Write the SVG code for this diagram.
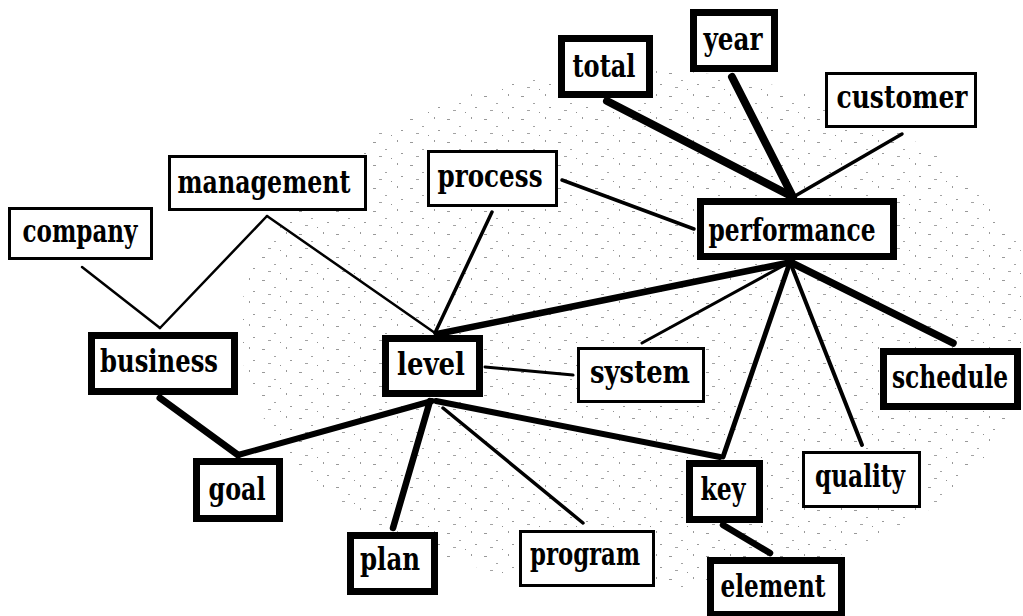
<svg xmlns="http://www.w3.org/2000/svg" width="1023" height="616" viewBox="0 0 1023 616">
<defs>
<style>
.box{fill:#fff;stroke:#000}
.thick{stroke-width:7}
.thin{stroke-width:3}
.lbl{font-family:"DejaVu Serif","Liberation Serif",serif;font-size:32px;fill:#000;text-anchor:middle;font-weight:bold}
.e{stroke:#000;fill:none;stroke-linecap:round}
</style>
<pattern id="speck" width="37" height="23" patternUnits="userSpaceOnUse">
<rect x="3" y="4" width="3" height="1" fill="#555"/>
<rect x="15" y="11" width="2" height="1" fill="#666"/>
<rect x="27" y="2" width="1" height="2" fill="#555"/>
<rect x="9" y="18" width="3" height="1" fill="#666"/>
<rect x="31" y="15" width="2" height="1" fill="#555"/>
<rect x="21" y="20" width="1" height="1" fill="#444"/>
</pattern>
</defs>
<rect width="1023" height="616" fill="#fff"/>
<ellipse cx="640" cy="330" rx="400" ry="260" fill="url(#speck)" opacity="0.6"/>
<g id="connectors">
<line class="e" x1="607" y1="101" x2="793" y2="197" stroke-width="8"/>
<line class="e" x1="732" y1="77" x2="793" y2="197" stroke-width="8"/>
<line class="e" x1="902" y1="134" x2="795" y2="196" stroke-width="3.5"/>
<line class="e" x1="562" y1="180" x2="694" y2="229" stroke-width="3.5"/>
<line class="e" x1="492" y1="212" x2="435" y2="333" stroke-width="3.5"/>
<line class="e" x1="267" y1="216" x2="435" y2="333" stroke-width="2.5"/>
<line class="e" x1="267" y1="216" x2="160" y2="328" stroke-width="2.5"/>
<line class="e" x1="82" y1="267" x2="160" y2="328" stroke-width="2.5"/>
<line class="e" x1="437" y1="334" x2="792" y2="262" stroke-width="6.5"/>
<line class="e" x1="790" y1="262" x2="642" y2="343" stroke-width="3"/>
<line class="e" x1="790" y1="262" x2="723" y2="457" stroke-width="5"/>
<line class="e" x1="790" y1="262" x2="862" y2="445" stroke-width="4"/>
<line class="e" x1="790" y1="262" x2="953" y2="343" stroke-width="7.5"/>
<line class="e" x1="485" y1="367" x2="573" y2="375" stroke-width="3"/>
<line class="e" x1="160" y1="398" x2="238" y2="455" stroke-width="7"/>
<line class="e" x1="238" y1="455" x2="432" y2="401" stroke-width="6"/>
<line class="e" x1="430" y1="401" x2="393" y2="528" stroke-width="6.5"/>
<line class="e" x1="443" y1="408" x2="583" y2="523" stroke-width="3.5"/>
<line class="e" x1="436" y1="401" x2="720" y2="457" stroke-width="6"/>
<line class="e" x1="723" y1="525" x2="770" y2="553" stroke-width="6.5"/>
</g>
<g id="node-total"><rect class="box thick" x="561.5" y="38.5" width="88" height="56"/><text class="lbl" x="604" y="77" textLength="63" lengthAdjust="spacingAndGlyphs">total</text></g>
<g id="node-year"><rect class="box thick" x="693.5" y="12.5" width="81" height="56"/><text class="lbl" x="733" y="50" textLength="59" lengthAdjust="spacingAndGlyphs">year</text></g>
<g id="node-customer"><rect class="box thin" x="826.5" y="73.5" width="149" height="53"/><text class="lbl" x="902" y="108" textLength="131" lengthAdjust="spacingAndGlyphs">customer</text></g>
<g id="node-performance"><rect class="box thick" x="700.5" y="201.5" width="193" height="55"/><text class="lbl" x="792" y="241" textLength="167" lengthAdjust="spacingAndGlyphs">performance</text></g>
<g id="node-process"><rect class="box thin" x="428.5" y="151.5" width="128" height="54"/><text class="lbl" x="490" y="187" textLength="105" lengthAdjust="spacingAndGlyphs">process</text></g>
<g id="node-management"><rect class="box thin" x="169.5" y="156.5" width="196" height="53"/><text class="lbl" x="264" y="193" textLength="173" lengthAdjust="spacingAndGlyphs">management</text></g>
<g id="node-company"><rect class="box thin" x="9.5" y="208.5" width="142" height="50"/><text class="lbl" x="80" y="242" textLength="115" lengthAdjust="spacingAndGlyphs">company</text></g>
<g id="node-business"><rect class="box thick" x="91.5" y="335.5" width="143" height="56"/><text class="lbl" x="159" y="372" textLength="118" lengthAdjust="spacingAndGlyphs">business</text></g>
<g id="node-level"><rect class="box thick" x="385.5" y="338.5" width="94" height="55"/><text class="lbl" x="431" y="375" textLength="68" lengthAdjust="spacingAndGlyphs">level</text></g>
<g id="node-system"><rect class="box thin" x="578.5" y="348.5" width="125" height="53"/><text class="lbl" x="640" y="383" textLength="100" lengthAdjust="spacingAndGlyphs">system</text></g>
<g id="node-schedule"><rect class="box thick" x="883.5" y="351.5" width="134" height="55"/><text class="lbl" transform="translate(950,388) scale(0.7,1)" x="0" y="0" textLength="166" lengthAdjust="spacingAndGlyphs">schedule</text></g>
<g id="node-goal"><rect class="box thick" x="196.5" y="461.5" width="83" height="57"/><text class="lbl" x="237" y="500" textLength="57" lengthAdjust="spacingAndGlyphs">goal</text></g>
<g id="node-plan"><rect class="box thick" x="350.5" y="535.5" width="84" height="56"/><text class="lbl" x="390" y="570" textLength="60" lengthAdjust="spacingAndGlyphs">plan</text></g>
<g id="node-program"><rect class="box thin" x="520.5" y="531.5" width="133" height="54"/><text class="lbl" x="585" y="565" textLength="110" lengthAdjust="spacingAndGlyphs">program</text></g>
<g id="node-key"><rect class="box thick" x="689.5" y="463.5" width="70" height="56"/><text class="lbl" x="723" y="500" textLength="45" lengthAdjust="spacingAndGlyphs">key</text></g>
<g id="node-quality"><rect class="box thin" x="803.5" y="452.5" width="116" height="54"/><text class="lbl" x="860" y="487" textLength="90" lengthAdjust="spacingAndGlyphs">quality</text></g>
<g id="node-element"><rect class="box thick" x="710.5" y="560.5" width="131" height="54"/><text class="lbl" x="773" y="597" textLength="105" lengthAdjust="spacingAndGlyphs">element</text></g>
</svg>
